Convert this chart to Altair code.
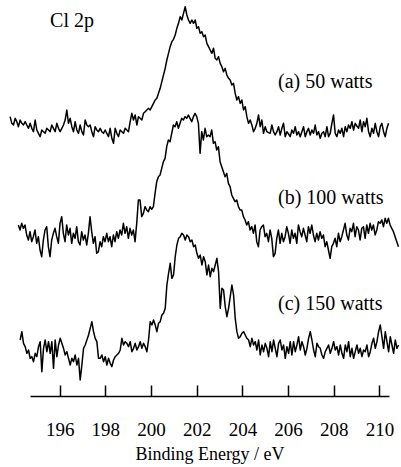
import altair as alt
import pandas as pd

# ---- data (arbitrary intensity units) ----
ENERGY_STEP = 0.073          # eV between successive points
START_A = 193.83             # first energy of each scan (eV)
START_B = 194.19
START_C = 194.27

OFFSET_A = 768               # vertical stacking offsets of the three scans
OFFSET_B = 408
OFFSET_C = 43

INT_A = [70, 50, 45, 65, 55, 40, 60, 50, 45, 55, 45, 35, 50, 35, 25, 60, 30, 20, 10, 30,
         25, 20, 35, 30, 25, 45, 35, 25, 50, 35, 25, 35, 45, 60, 90, 50, 65, 40, 25, 55,
         30, 20, 45, 25, 15, 60, 45, 40, 45, 25, 10, 40, 30, 25, 35, 25, 20, 30, 20, 10,
         35, 5, -10, 35, 20, 10, 30, 25, 20, 35, 30, 25, 55, 80, 60, 75, 45, 70, 65, 60,
         80, 85, 90, 95, 90, 100, 110, 120, 125, 140, 155, 175, 195, 215, 240, 260, 280, 295, 302, 315,
         335, 350, 370, 360, 380, 400, 375, 360, 350, 360, 350, 360, 335, 340, 320, 325, 310, 315, 290, 280,
         270, 260, 275, 245, 240, 250, 230, 220, 205, 215, 195, 185, 180, 165, 170, 140, 120, 130, 110, 120,
         90, 100, 70, 50, 60, 45, 25, 35, 50, 75, 40, 60, 20, 40, 25, 22, 20, 45, 25, 15,
         25, 40, 15, 35, 50, 10, 25, 18, 10, 30, 20, 40, 15, 25, 10, 25, 40, 10, 25, 35,
         15, 30, 20, 45, 15, 25, 5, 20, 25, 10, 40, 10, 20, 50, 75, 20, 10, 30, 20, 35,
         10, 40, 25, 45, 35, 55, 30, 50, 42, 35, 60, 25, 55, 40, 65, 25, 10, 35, 20, 50,
         25, 10, 40, 50, 25, 10, 35, 50]

INT_B = [105, 90, 110, 95, 105, 75, 60, 85, 55, 70, 90, 50, 70, 30, 10, 60, 90, 100, 40, 10,
         60, 80, 95, 70, 50, 110, 130, 80, 55, 105, 75, 95, 50, 80, 65, 100, 55, 45, 85, 60,
         75, 45, 80, 130, 85, 50, 70, 20, 25, 55, 40, 70, 55, 80, 55, 70, 40, 75, 55, 85,
         65, 90, 75, 110, 80, 100, 65, 95, 75, 90, 55, 110, 180, 180, 130, 140, 160, 150, 145, 160,
         152, 160, 200, 235, 250, 255, 275, 295, 305, 340, 360, 355, 380, 405, 400, 415, 395, 410, 425, 420,
         430, 425, 435, 425, 415, 430, 440, 430, 410, 320, 385, 360, 395, 370, 375, 370, 390, 350, 355, 330,
         340, 295, 280, 265, 250, 260, 230, 220, 195, 185, 175, 180, 160, 150, 150, 130, 120, 105, 115, 90,
         100, 80, 105, 55, 40, 90, 100, 105, 70, 80, 55, 90, 65, 10, 20, 65, 90, 50, 80, 55,
         70, 100, 80, 50, 90, 65, 80, 50, 105, 85, 70, 95, 75, 55, 100, 80, 105, 75, 55, 80,
         60, 85, 65, 75, 40, 55, 30, 5, 40, 50, 65, 40, 80, 55, 70, 90, 110, 75, 60, 95,
         85, 110, 70, 100, 90, 60, 95, 100, 65, 105, 80, 110, 90, 105, 75, 90, 115, 110, 120, 100,
         125, 110, 125, 105, 95, 85, 70, 55, 40]

INT_C = [125, 150, 115, 105, 85, 95, 70, 75, 60, 85, 75, 105, 120, 30, 100, 125, 90, 120, 85, 120,
         40, 125, 75, 110, 130, 115, 100, 80, 90, 70, 50, 70, 60, 80, 50, 70, 5, 50, 100, 110,
         125, 140, 160, 180, 150, 130, 120, 70, 70, 80, 60, 75, 50, 70, 55, 45, 65, 75, 80, 85,
         95, 130, 110, 120, 115, 105, 120, 90, 100, 115, 95, 105, 120, 100, 115, 105, 90, 125, 180, 170,
         185, 170, 150, 175, 180, 200, 205, 220, 290, 325, 355, 310, 320, 375, 410, 430, 435, 445, 440, 425,
         440, 435, 420, 425, 405, 410, 385, 370, 380, 350, 375, 360, 320, 350, 315, 340, 330, 350, 370, 330,
         220, 280, 275, 225, 195, 220, 255, 290, 260, 190, 150, 130, 135, 145, 150, 140, 130, 125, 105, 130,
         110, 120, 95, 125, 80, 110, 90, 115, 100, 75, 120, 90, 125, 100, 75, 115, 125, 95, 110, 70,
         105, 85, 120, 80, 120, 90, 110, 135, 95, 120, 105, 80, 100, 130, 150, 125, 95, 75, 115, 105,
         100, 80, 70, 90, 100, 110, 85, 100, 120, 95, 105, 80, 110, 85, 70, 110, 90, 120, 75, 100,
         70, 90, 110, 85, 100, 75, 95, 90, 110, 75, 90, 115, 130, 100, 120, 150, 170, 135, 100, 150,
         120, 90, 135, 110, 85, 125, 100, 110]

TICKS = [196, 198, 200, 202, 204, 206, 208, 210]
X_DOMAIN = [194.7, 210.42]
Y_DOMAIN = [0, 1188]

ANNOT_TEXT = ["Cl 2p", "(a) 50 watts", "(b) 100 watts", "(c) 150 watts"]
ANNOT_X = [195.58, 205.56, 205.56, 205.56]
ANNOT_Y = [1126, 942, 594, 276]

# ---- build tables ----
rows = []
for name, start, off, vals in [("a", START_A, OFFSET_A, INT_A),
                               ("b", START_B, OFFSET_B, INT_B),
                               ("c", START_C, OFFSET_C, INT_C)]:
    for i, v in enumerate(vals):
        rows.append({"series": name, "energy": start + ENERGY_STEP * i, "signal": off + v})
df = pd.DataFrame(rows)
ann = pd.DataFrame({"text": ANNOT_TEXT, "x": ANNOT_X, "y": ANNOT_Y})
ticks_df = pd.DataFrame({"t": TICKS})

FONT = "Liberation Serif"
xscale = alt.Scale(domain=X_DOMAIN, nice=False, zero=False)
yscale = alt.Scale(domain=Y_DOMAIN, nice=False, zero=False)

lines = alt.Chart(df).mark_line(color="black", strokeWidth=1.5, strokeJoin="round").encode(
    x=alt.X("energy:Q", scale=xscale,
            axis=alt.Axis(orient="bottom", values=TICKS, ticks=False, tickSize=0,
                          domain=True, domainColor="black", domainWidth=1.5,
                          labelFont=FONT, labelFontSize=19, labelColor="black",
                          labelPadding=24, grid=False,
                          title="Binding Energy / eV", titleFont=FONT, titleFontSize=18,
                          titleFontWeight="normal", titleColor="black", titlePadding=6)),
    y=alt.Y("signal:Q", scale=yscale, axis=None),
    detail="series:N",
)

tickmarks = alt.Chart(ticks_df).mark_point(opacity=0).encode(
    x=alt.X("t:Q", scale=xscale,
            axis=alt.Axis(orient="top", offset=-396, values=TICKS, labels=False,
                          domain=False, ticks=True, tickSize=11, tickWidth=1.5,
                          tickColor="black", grid=False, title=None)),
    y=alt.value(396),
)

texts = alt.Chart(ann).mark_text(align="left", baseline="middle", font=FONT,
                                 fontSize=20, color="black").encode(
    x=alt.X("x:Q", scale=xscale, axis=None),
    y=alt.Y("y:Q", scale=yscale, axis=None),
    text="text:N",
)

chart = alt.layer(lines, tickmarks, texts).resolve_axis(x="independent").resolve_scale(
    x="shared", y="shared"
).properties(
    width=359, height=396,
    padding={"left": 30, "top": 0, "right": 12, "bottom": 71},
    autosize=alt.AutoSizeParams(type="none"),
    background="white",
).configure_view(stroke=None)

chart.save("out.html", embed_options={"renderer": "svg", "actions": False})
